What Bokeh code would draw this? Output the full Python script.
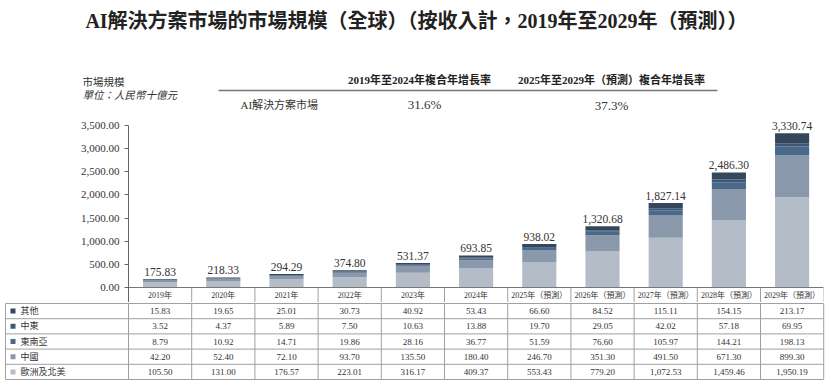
from bokeh.plotting import figure
from bokeh.layouts import column
from bokeh.models import Range1d, FixedTicker, NumeralTickFormatter, ColumnDataSource
from bokeh.core.properties import value
from bokeh.embed import file_html
from bokeh.resources import INLINE

# ---------------- data ----------------
years = ["2019年", "2020年", "2021年", "2022年", "2023年", "2024年",
         "2025年（預測）", "2026年（預測）", "2027年（預測）", "2028年（預測）", "2029年（預測）"]
other = [15.83, 19.65, 25.01, 30.73, 40.92, 53.43, 66.60, 84.52, 115.11, 154.15, 213.17]
middle_east = [3.52, 4.37, 5.89, 7.50, 10.63, 13.88, 19.70, 29.05, 42.02, 57.18, 69.95]
se_asia = [8.79, 10.92, 14.71, 19.86, 28.16, 36.77, 51.59, 76.60, 105.97, 144.21, 198.13]
china = [42.20, 52.40, 72.10, 93.70, 135.50, 180.40, 246.70, 351.30, 491.50, 671.30, 899.30]
eu_na = [105.50, 131.00, 176.57, 223.01, 316.17, 409.37, 553.43, 779.20, 1072.53, 1459.46, 1950.19]
totals = [175.83, 218.33, 294.29, 374.80, 531.37, 693.85, 938.02, 1320.68, 1827.14, 2486.30, 3330.74]
row_names = ["其他", "中東", "東南亞", "中國", "歐洲及北美"]
row_colors = ["#34475d", "#3d5775", "#4a6889", "#8a98ab", "#b4bcc7"]
y_ticks = [0, 500, 1000, 1500, 2000, 2500, 3000, 3500]

title = "AI解決方案市場的市場規模（全球）（按收入計，2019年至2029年（預測））"
unit_1 = "市場規模"
unit_2 = "單位：人民幣十億元"
cagr_heads = ["2019年至2024年複合年增長率", "2025年至2029年（預測）複合年增長率"]
cagr_row = "AI解決方案市場"
cagr_vals = ["31.6%", "37.3%"]

SERIF = value("Liberation Serif, Noto Sans CJK TC")
TXT = "#333333"

W = 831
UNIT = 63.2           # px per column
LEFT = 128            # page x of chart frame left
N = len(years)
FRAME_W = W - 8 - LEFT
xs = [k + 0.5 for k in range(N)]


def clean(p):
    p.outline_line_color = None
    p.xgrid.visible = False
    p.ygrid.visible = False
    p.background_fill_color = "white"
    p.border_fill_color = "white"


# ---------------- header (page pixel coordinates) ----------------
HH = 114
hdr = figure(width=W, height=HH, x_range=Range1d(0, W), y_range=Range1d(start=HH, end=0),
             x_axis_location=None, y_axis_location=None, min_border=0, frame_align=False,
             output_backend="svg", toolbar_location=None)
clean(hdr)
hdr.text(x=[416], y=[20], text=[title], text_align="center", text_baseline="middle",
         text_font=SERIF, text_font_size="20px", text_font_style="bold", text_color="#222222")
hdr.text(x=[82], y=[82], text=[unit_1], text_align="left", text_baseline="middle",
         text_font=SERIF, text_font_size="10.5px", text_color=TXT)
hdr.text(x=[82], y=[95], text=[unit_2], text_align="left", text_baseline="middle",
         text_font=SERIF, text_font_size="10.5px", text_font_style="italic", text_color=TXT)
hdr.text(x=[419, 611], y=[79, 79], text=cagr_heads, text_align="center", text_baseline="middle",
         text_font=SERIF, text_font_size="11px", text_font_style="bold", text_color="#222222")
hdr.segment(x0=[218], y0=[90], x1=[717], y1=[90], line_color="#777777", line_width=1.5)
hdr.text(x=[240], y=[104], text=[cagr_row], text_align="left", text_baseline="middle",
         text_font=SERIF, text_font_size="11px", text_color=TXT)
hdr.text(x=[424, 611], y=[104, 105], text=cagr_vals, text_align="center", text_baseline="middle",
         text_font=SERIF, text_font_size="13px", text_color=TXT)

# ---------------- chart ----------------
ys = 3500 / 162.0
TOPPAD = 125 - HH
y_top = 3500 + TOPPAD * ys
y_bot = -15 * ys
chart = figure(width=W, height=302 - HH, x_range=Range1d(0, FRAME_W / UNIT),
               y_range=Range1d(y_bot, y_top), x_axis_location=None, frame_align=False,
               min_border_left=LEFT, min_border_right=8, min_border_top=0, min_border_bottom=0,
               output_backend="svg", toolbar_location=None)
clean(chart)
src = ColumnDataSource(dict(x=xs, eu=eu_na, cn=china, sea=se_asia, me=middle_east, ot=other,
                            total=totals, label=[f"{t:,.2f}" for t in totals], year=years))
chart.vbar_stack(["eu", "cn", "sea", "me", "ot"], x="x", width=0.54,
                 color=row_colors[::-1], line_color=None, source=src)
chart.text(x="x", y="total", text="label", source=src, y_offset=-3,
           text_align="center", text_baseline="bottom",
           text_font=SERIF, text_font_size="11.5px", text_color=TXT)
# header row of the table
chart.text(x="x", y=-7.5 * ys, text="year", source=src, text_align="center", text_baseline="middle",
           text_font=SERIF, text_font_size="8px", text_color=TXT)
chart.segment(x0=list(range(1, N + 1)), y0=[0] * N, x1=list(range(1, N + 1)), y1=[y_bot] * N,
              line_color="#a0a0a0", line_width=1)
chart.segment(x0=[0], y0=[0], x1=[N], y1=[0], line_color="#777777", line_width=1.2)

ax = chart.yaxis[0]
ax.ticker = FixedTicker(ticks=y_ticks)
ax.formatter = NumeralTickFormatter(format="0,0.00")
ax.bounds = (y_bot, 3500)
ax.major_label_text_font = "Liberation Serif"
ax.major_label_text_font_size = "11px"
ax.major_label_text_color = TXT
ax.axis_line_color = "#666666"
ax.major_tick_line_color = "#666666"
ax.major_tick_out = 4
ax.major_tick_in = 0
ax.minor_tick_line_color = None
ax.major_label_standoff = 5

# ---------------- table ----------------
ROWH = 15.2
TH = 390 - 302
tbl = figure(width=W, height=TH, x_range=Range1d(-LEFT / UNIT, (W - LEFT) / UNIT),
             y_range=Range1d(start=(TH - 1.0) / ROWH, end=-1.0 / ROWH),
             x_axis_location=None, y_axis_location=None, min_border=0, frame_align=False,
             output_backend="svg", toolbar_location=None)
clean(tbl)
xl = (5 - LEFT) / UNIT
rows = [other, middle_east, se_asia, china, eu_na]
nr = len(rows)
tbl.segment(x0=[xl] * (nr + 1), y0=list(range(nr + 1)), x1=[N] * (nr + 1), y1=list(range(nr + 1)),
            line_color="#a0a0a0", line_width=1)
vx = [xl] + list(range(N + 1))
tbl.segment(x0=vx, y0=[0] * len(vx), x1=vx, y1=[nr] * len(vx), line_color="#a0a0a0", line_width=1)
tbl.scatter(x=[(12.5 - LEFT) / UNIT] * nr, y=[i + 0.5 for i in range(nr)], marker="square", size=5,
            color=row_colors, line_color=None)
tbl.text(x=[(20 - LEFT) / UNIT] * nr, y=[i + 0.5 for i in range(nr)], text=row_names,
         text_align="left", text_baseline="middle", text_font=SERIF, text_font_size="9px",
         text_color=TXT)
tx, ty, tt = [], [], []
for i, r in enumerate(rows):
    for k, v in enumerate(r):
        tx.append(k + 0.5)
        ty.append(i + 0.5)
        tt.append(f"{v:,.2f}")
tbl.text(x=tx, y=ty, text=tt, text_align="center", text_baseline="middle",
         text_font=SERIF, text_font_size="9px", text_color=TXT)

layout = column(hdr, chart, tbl, spacing=0)
open("out.html", "w").write(file_html(layout, INLINE))
